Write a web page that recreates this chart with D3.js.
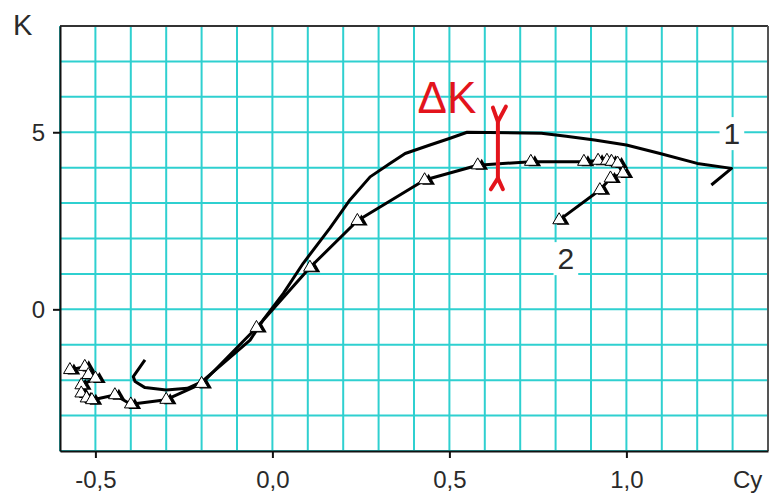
<!DOCTYPE html>
<html>
<head>
<meta charset="utf-8">
<script src="https://cdn.jsdelivr.net/npm/d3@7"></script>
<style>
  html, body { margin: 0; padding: 0; background: #fff; }
  svg { display: block; }
  text { font-family: Arial, "Liberation Sans", sans-serif; }
</style>
</head>
<body>
<svg id="chart" width="770" height="497"></svg>
<script>
// ---- data ----
const xDomain = [-0.6, 1.4];
const yDomain = [-4, 8];
const xTickValues = [-0.5, 0.0, 0.5, 1.0];
const xTickLabels = ["-0,5", "0,0", "0,5", "1,0"];
const yTickValues = [0, 5];
const yTickLabels = ["0", "5"];

// curve 1 (no markers)
const curve1 = [
  [-0.36, -1.43], [-0.393, -1.90], [-0.388, -2.04], [-0.36, -2.21], [-0.30, -2.28],
  [-0.24, -2.23], [-0.20, -2.05], [-0.063, -0.87], [-0.026, -0.30], [0.031, 0.45],
  [0.087, 1.30], [0.163, 2.30], [0.219, 3.09], [0.276, 3.74], [0.332, 4.12],
  [0.375, 4.40], [0.445, 4.64], [0.502, 4.83], [0.55, 5.0], [0.76, 4.97],
  [0.83, 4.89], [0.91, 4.78], [1.0, 4.64], [1.095, 4.40], [1.2, 4.12],
  [1.297, 3.98], [1.24, 3.51]
];

// curve 2 (triangle markers)
const curve2 = [
  [-0.572, -1.71], [-0.53, -1.62], [-0.52, -1.85], [-0.50, -1.95], [-0.54, -2.14],
  [-0.54, -2.37], [-0.525, -2.51], [-0.51, -2.56], [-0.445, -2.42], [-0.40, -2.68],
  [-0.30, -2.55], [-0.20, -2.10], [-0.045, -0.52], [0.106, 1.18], [0.24, 2.50],
  [0.43, 3.65], [0.58, 4.07], [0.73, 4.17], [0.88, 4.17], [0.92, 4.20],
  [0.945, 4.20], [0.958, 4.17], [0.975, 4.12], [0.99, 3.84], [0.955, 3.70],
  [0.925, 3.37], [0.81, 2.52]
];

const curveLabels = [
  { text: "1", x: 1.298, y: 4.97 },
  { text: "2", x: 0.829, y: 1.44 }
];
const deltaK = { x: 0.637, top: 5.30, bottom: 3.70, label: "\u0394K", lx: 0.41, ly: 5.55 };

// ---- layout ----
const W = 770, H = 497;
const margin = { left: 60, top: 26, right: 2, bottom: 46 };
const svg = d3.select("#chart");
const x = d3.scaleLinear().domain(xDomain).range([margin.left, W - margin.right]);
const y = d3.scaleLinear().domain(yDomain).range([H - margin.bottom, margin.top]);

const gridColor = "#2fd0d0";

// grid
const gx = d3.range(-6, 15).map(i => i / 10);
const gy = d3.range(yDomain[0], yDomain[1] + 1);
svg.append("g").selectAll("line").data(gx).join("line")
  .attr("x1", d => x(d)).attr("x2", d => x(d))
  .attr("y1", y(yDomain[0])).attr("y2", y(yDomain[1]))
  .attr("stroke", gridColor).attr("stroke-width", 2);
svg.append("g").selectAll("line").data(gy).join("line")
  .attr("y1", d => y(d)).attr("y2", d => y(d))
  .attr("x1", x(xDomain[0])).attr("x2", x(xDomain[1]))
  .attr("stroke", gridColor).attr("stroke-width", 2);

// frame
svg.append("line").attr("x1", x(xDomain[0])).attr("x2", x(xDomain[1]))
  .attr("y1", y(yDomain[1])).attr("y2", y(yDomain[1])).attr("stroke", "#333").attr("stroke-width", 2);
svg.append("line").attr("x1", x(xDomain[1])).attr("x2", x(xDomain[1]))
  .attr("y1", y(yDomain[0])).attr("y2", y(yDomain[1])).attr("stroke", "#555").attr("stroke-width", 2);

// axes
const xAxis = d3.axisBottom(x).tickValues(xTickValues)
  .tickFormat((d, i) => xTickLabels[i]).tickSize(7).tickSizeOuter(0).tickPadding(8);
const yAxis = d3.axisLeft(y).tickValues(yTickValues)
  .tickFormat((d, i) => yTickLabels[i]).tickSize(7).tickSizeOuter(0).tickPadding(8);

const gxA = svg.append("g").attr("transform", `translate(0,${y(yDomain[0])})`).call(xAxis);
const gyA = svg.append("g").attr("transform", `translate(${x(xDomain[0])},0)`).call(yAxis);
[gxA, gyA].forEach(g => {
  g.select(".domain").attr("stroke", "#111").attr("stroke-width", 2);
  g.selectAll(".tick line").attr("stroke", "#111").attr("stroke-width", 2);
  g.selectAll(".tick text").attr("font-size", 24).attr("fill", "#2a2a2a")
    .attr("font-family", "Arial, 'Liberation Sans', sans-serif");
});
gxA.selectAll(".tick text").attr("dy", "0.9em");
gyA.selectAll(".tick text").attr("dy", "0.36em");

// axis titles
svg.append("text").attr("x", 13).attr("y", 35).attr("font-size", 29).attr("fill", "#2a2a2a").text("K");
svg.append("text").attr("x", 733).attr("y", 488).attr("font-size", 24).attr("fill", "#2a2a2a").text("Cy");

// lines
const line = d3.line().x(d => x(d[0])).y(d => y(d[1]));
svg.append("path").datum(curve1).attr("d", line)
  .attr("fill", "none").attr("stroke", "#000").attr("stroke-width", 3).attr("stroke-linejoin", "round");
svg.append("path").datum(curve2).attr("d", line)
  .attr("fill", "none").attr("stroke", "#000").attr("stroke-width", 3).attr("stroke-linejoin", "round");

// markers
const tri = d3.symbol().type(d3.symbolTriangle).size(70);
const mk = svg.append("g");
mk.selectAll("path.sh").data(curve2).join("path").attr("class", "sh")
  .attr("d", tri).attr("transform", d => `translate(${x(d[0]) + 4},${y(d[1]) + 1})`)
  .attr("fill", "#000");
mk.selectAll("path.fg").data(curve2).join("path").attr("class", "fg")
  .attr("d", tri).attr("transform", d => `translate(${x(d[0])},${y(d[1])})`)
  .attr("fill", "#fff").attr("stroke", "#000").attr("stroke-width", 1);

// curve labels
curveLabels.forEach(l => {
  const t = svg.append("text").attr("x", x(l.x)).attr("y", y(l.y))
    .attr("text-anchor", "middle").attr("dy", "0.36em")
    .attr("font-size", 30).attr("fill", "#2a2a2a").text(l.text);
  const b = t.node().getBBox();
  svg.insert("rect", () => t.node()).attr("x", b.x - 4).attr("y", b.y)
    .attr("width", b.width + 8).attr("height", b.height).attr("fill", "#fff");
});

// delta K marker
const red = "#e3141c";
const dk = svg.append("g").attr("stroke", red).attr("stroke-width", 4).attr("fill", "none")
  .attr("stroke-linecap", "round");
const xc = x(deltaK.x), yt = y(deltaK.top), yb = y(deltaK.bottom);
dk.append("line").attr("x1", xc).attr("x2", xc).attr("y1", yt).attr("y2", yb);
dk.append("path").attr("d", `M${xc - 5},${yt - 14} L${xc},${yt} L${xc + 8},${yt - 15}`);
dk.append("path").attr("d", `M${xc - 7},${yb + 11} L${xc},${yb} L${xc + 5},${yb + 11}`);
svg.append("text").attr("x", x(deltaK.lx)).attr("y", y(deltaK.ly))
  .attr("font-size", 44).attr("fill", red).text(deltaK.label);
</script>
</body>
</html>
